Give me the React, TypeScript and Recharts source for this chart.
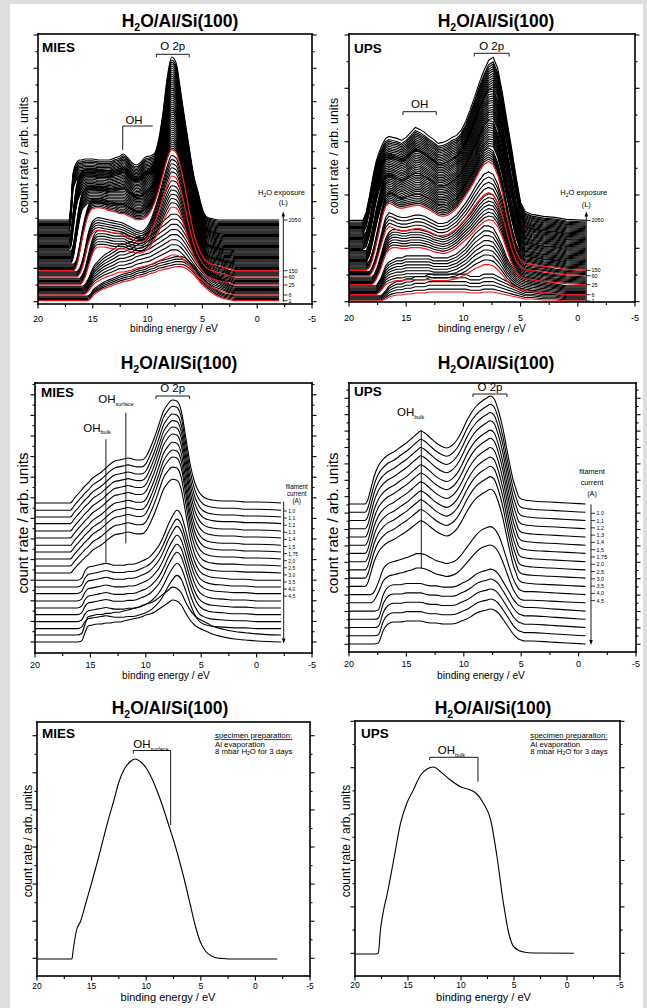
import React from "react";
import { LineChart, Line, XAxis, YAxis } from "recharts";

const FONT = '"Liberation Sans", Arial, Helvetica, sans-serif';
const RED = "#f2161b";

// binding energy axis, shared by every panel
const xMajor = [20, 15, 10, 5, 0, -5];
const xMinor = [17.5, 12.5, 7.5, 2.5, -2.5];

// ---------- row 1, MIES, H2O exposure (heights above each curve's own baseline, arb.) ----------
const miesEnergy = [20, 17.5, 17.2, 17.0, 16.8, 16.5, 16.2, 16.0, 15.7, 15.5, 15.2, 15.0, 14.5, 14.0, 13.5, 13.0, 12.5, 12.2, 11.8, 11.4, 11.0, 10.6, 10.2, 9.8, 9.4, 9.0, 8.6, 8.2, 7.8, 7.4, 7.0, 6.6, 6.2, 5.8, 5.4, 5.0, 4.6, 4.0, 3.5, 3.0, 2.5, 2.0, 1.0, -2.0];
const mies1L = [0, 0, 0, 0, 0, 0, 0, 0, 0, 0, 2, 5, 9, 12, 14, 16, 18, 19, 20, 21, 23, 24, 25, 27, 28, 30, 31, 32, 33, 34, 34, 33, 30, 26, 21, 16, 12, 7, 4, 2, 1, 0, 0, 0];
const mies6L = [0, 0, 0, 0, 0, 0, 0, 0, 1, 3, 7, 10, 14, 17, 19, 21, 23, 23, 24, 25, 27, 28, 29, 30, 32, 34, 36, 38, 40, 40, 38, 34, 29, 24, 19, 15, 11, 7, 5, 3, 1, 0, 0, 0];
const mies25L = [0, 0, 0, 0, 0, 0, 0, 2, 8, 15, 26, 32, 38, 38, 37, 36, 36, 36, 34, 33, 32, 32, 34, 38, 45, 53, 63, 72, 78, 77, 70, 57, 42, 30, 21, 14, 9, 6, 4, 3, 2, 0, 0, 0];
const mies60L = [0, 0, 0, 0, 0, 0, 3, 8, 20, 30, 40, 44, 47, 46, 45, 44, 43, 42, 40, 38, 36, 35, 37, 43, 53, 65, 79, 92, 101, 99, 88, 70, 50, 33, 22, 14, 9, 6, 4, 3, 1, 0, 0, 0];
const mies150L = [0, 0, 0, 0, 0, 4, 18, 30, 45, 53, 60, 62, 63, 62, 60, 59, 57, 57, 55, 53, 51, 51, 53, 58, 67, 80, 96, 112, 121, 118, 104, 84, 60, 38, 24, 15, 9, 6, 5, 3, 2, 0, 0, 0];
const mies300L = [0, 0, 0, 0, 5, 25, 45, 54, 59, 61, 62, 62, 62, 61, 60, 60, 60, 60, 58, 55, 53, 53, 56, 60, 67, 80, 99, 120, 131, 128, 111, 88, 63, 40, 25, 14, 7, 4, 3, 1, 1, 0, 0, 0];
const miesMidL = [0, 0, 0, 3, 20, 45, 56, 59, 61, 62, 62, 62, 61, 61, 60, 61, 62, 63, 60, 56, 54, 55, 59, 62, 67, 80, 102, 128, 142, 138, 117, 92, 66, 42, 26, 13, 5, 2, 1, 0, 0, 0, 0, 0];
const mies2050L = [0, 0, 0, 15, 47, 57, 60, 60, 61, 61, 61, 61, 60, 60, 60, 62, 64, 66, 62, 57, 55, 58, 63, 64, 66, 80, 107, 143, 163, 157, 130, 100, 72, 45, 28, 11, 3, 1, 0, 0, 0, 0, 0, 0];
// each drawn curve: baseline offset, which reference spectrum, and its scale
const miesBase = [3.3, 4.4, 5.6, 6.8, 7.9, 9.0, 10.1, 11.2, 12.3, 13.4, 14.5, 15.6, 16.7, 17.8, 19.0, 20.1, 21.2, 22.4, 23.5, 24.7, 25.8, 27.0, 28.1, 29.2, 30.2, 31.3, 32.3, 33.3,
  34.4, 35.5, 36.6, 37.7, 38.8, 39.9, 41.0, 42.1, 43.2, 44.3, 45.4, 46.5, 47.6, 48.7, 49.8, 50.9, 52.0, 53.1, 54.2, 55.3, 56.4, 57.5, 58.6,
  59.7, 60.8, 61.9, 63.0, 64.1, 65.2, 66.3, 67.4, 68.5, 69.6, 70.7, 71.8, 72.9, 74.0, 75.1, 76.2, 77.3, 78.4, 79.5, 80.6, 81.7, 82.8, 84.0];
const miesKeyOf = [0, 0, 0, 0, 0, 1, 1, 1, 1, 1, 1, 1, 1, 1, 2, 2, 2, 2, 2, 2, 2, 3, 3, 3, 3, 3, 3, 4,
  4, 4, 4, 4, 4, 4,
  5, 5, 5, 5, 5, 5, 5, 5, 5, 5, 5, 5,
  6, 6, 6, 6, 6, 6, 6, 6, 6, 6, 6, 6, 6, 6, 6,
  7, 7, 7, 7, 7, 7, 7, 7, 7, 7, 7, 7, 7];
const miesGain = [1, 1.04, 1.08, 1.12, 1.16, 1, 1.1, 1.2, 1.3, 1.4, 1.5, 1.6, 1.7, 1.8, 1, 1.04, 1.08, 1.12, 1.16, 1.2, 1.25, 1, 1.03, 1.06, 1.09, 1.12, 1.15, 1,
  1.005, 1.012, 1.02, 1.027, 1.035, 1.042,
  0.969, 0.976, 0.983, 0.99, 0.997, 1.004, 1.011, 1.018, 1.024, 1.031, 1.038, 1.045,
  0.97, 0.977, 0.983, 0.989, 0.996, 1.002, 1.008, 1.015, 1.021, 1.027, 1.034, 1.04, 1.046, 1.053, 1.059,
  0.928, 0.934, 0.939, 0.945, 0.95, 0.956, 0.961, 0.967, 0.972, 0.978, 0.983, 0.989, 1];
const miesRed = [0, 5, 14, 21, 27];
const exposureLabels = ["1", "6", "25", "60", "150", "2050"];
const miesLabelIdx = [0, 5, 14, 21, 27, 73];

// ---------- row 1, UPS, H2O exposure ----------
const upsEnergy = [20, 19.0, 18.8, 18.5, 18.2, 18.0, 17.8, 17.6, 17.4, 17.2, 17.0, 16.8, 16.5, 16.2, 15.8, 15.4, 15.0, 14.6, 14.2, 13.8, 13.4, 13.0, 12.6, 12.2, 11.8, 11.4, 11.0, 10.6, 10.2, 9.8, 9.4, 9.0, 8.6, 8.2, 7.8, 7.4, 7.0, 6.6, 6.2, 5.8, 5.4, 5.0, 4.6, 4.0, 3.0, 2.0, 1.0, -0.7];
const ups1L = [0, 0, 0, 0, 0, 0, 0, 0, 0, 0, 1, 2, 4, 5, 6, 6, 7, 7, 8, 8, 8, 9, 9, 9, 9, 9, 9, 9, 9, 9, 8, 8, 8, 9, 9, 9, 8, 7, 6, 5, 4, 3, 2, 2, 1, 1, 0, 0];
const ups6L = [0, 0, 0, 0, 0, 0, 0, 0, 2, 4, 7, 10, 12, 13, 14, 14, 15, 15, 15, 15, 15, 15, 14, 14, 14, 14, 15, 16, 18, 20, 23, 26, 28, 30, 30, 29, 25, 20, 14, 10, 7, 5, 4, 3, 2, 1, 0, 0];
const ups25L = [0, 0, 0, 0, 0, 0, 2, 6, 11, 17, 24, 30, 35, 37, 37, 36, 36, 37, 37, 37, 36, 35, 33, 32, 31, 32, 34, 37, 41, 45, 49, 54, 59, 63, 65, 64, 58, 48, 35, 22, 13, 8, 6, 5, 3, 2, 1, 0];
const ups60L = [0, 0, 0, 0, 0, 3, 8, 14, 22, 30, 38, 45, 49, 48, 46, 45, 45, 46, 47, 47, 46, 44, 42, 40, 40, 41, 44, 47, 52, 57, 63, 70, 76, 81, 83, 81, 73, 60, 43, 27, 15, 9, 6, 5, 4, 2, 1, 0];
const ups150L = [0, 0, 0, 0, 3, 9, 17, 27, 37, 48, 57, 64, 67, 66, 63, 62, 63, 64, 65, 65, 63, 61, 58, 55, 54, 55, 58, 62, 68, 75, 82, 90, 99, 106, 109, 106, 95, 78, 55, 35, 19, 10, 7, 6, 4, 3, 1, 0];
const ups300L = [0, 0, 0, 0, 8, 18, 29, 40, 50, 59, 66, 71, 73, 72, 69, 67, 69, 71, 73, 73, 70, 68, 65, 61, 61, 62, 65, 68, 74, 82, 90, 99, 110, 118, 123, 122, 111, 92, 68, 46, 26, 12, 7, 6, 4, 3, 1, 0];
const upsMidL = [0, 0, 0, 3, 15, 27, 40, 52, 61, 68, 73, 76, 77, 76, 74, 72, 74, 78, 81, 80, 77, 74, 71, 67, 67, 69, 72, 75, 81, 89, 98, 109, 120, 130, 137, 138, 127, 106, 80, 56, 32, 14, 8, 6, 4, 3, 1, 0];
const ups2050L = [0, 0, 0, 8, 25, 38, 50, 60, 67, 73, 78, 82, 84, 83, 82, 80, 83, 88, 93, 91, 88, 84, 81, 77, 78, 80, 83, 85, 90, 99, 111, 124, 138, 150, 160, 163, 152, 128, 100, 73, 44, 18, 9, 6, 4, 3, 1, 0];
const upsBase = [1.0, 2.1, 3.2, 4.2, 5.3, 6.3, 7.3, 8.4, 9.5, 10.6, 11.7, 12.8, 13.9, 15.0, 16.1, 17.3, 18.4, 19.5, 20.6, 21.7, 22.8, 23.9, 25.0, 26.3, 27.4, 28.4, 29.5, 30.5, 31.6,
  32.7, 33.8, 34.9, 36.0, 37.1, 38.2, 39.3, 40.4, 41.5, 42.6, 43.7, 44.8, 45.9, 47.0, 48.1, 49.2, 50.3, 51.4, 52.5, 53.6, 54.7, 55.8,
  56.9, 58.0, 59.1, 60.2, 61.3, 62.4, 63.5, 64.6, 65.7, 66.8, 67.9, 69.0, 70.1, 71.2, 72.3, 73.4, 74.5, 75.6, 76.7, 77.8, 78.9, 80.0, 81.6];
const upsKeyOf = [0, 0, 0, 0, 0, 0, 1, 1, 1, 1, 1, 1, 1, 1, 1, 2, 2, 2, 2, 2, 2, 2, 2, 3, 3, 3, 3, 3, 4,
  4, 4, 4, 4, 4, 4,
  5, 5, 5, 5, 5, 5, 5, 5, 5, 5, 5, 5,
  6, 6, 6, 6, 6, 6, 6, 6, 6, 6, 6, 6, 6, 6,
  7, 7, 7, 7, 7, 7, 7, 7, 7, 7, 7, 7, 7];
const upsGain = [1, 1.2, 1.5, 1.8, 2.1, 2.4, 1, 1.12, 1.25, 1.38, 1.5, 1.62, 1.75, 1.87, 2.0, 1, 1.04, 1.08, 1.12, 1.16, 1.2, 1.24, 1.28, 1, 1.05, 1.1, 1.15, 1.2, 1,
  1.011, 1.021, 1.032, 1.043, 1.053, 1.064,
  0.952, 0.962, 0.971, 0.98, 0.99, 0.999, 1.009, 1.018, 1.028, 1.037, 1.046, 1.056,
  0.949, 0.958, 0.967, 0.975, 0.983, 0.991, 1.0, 1.009, 1.017, 1.025, 1.033, 1.042, 1.051, 1.059,
  0.904, 0.911, 0.918, 0.925, 0.932, 0.939, 0.946, 0.954, 0.961, 0.968, 0.975, 0.982, 1];
const upsRed = [0, 6, 15, 23, 28];
const upsLabelIdx = [0, 6, 15, 23, 28, 73];

// ---------- row 2, MIES, filament current ----------
const filMiesEnergy = [20, 17.0, 16.8, 16.5, 16.2, 15.8, 15.5, 15.2, 14.8, 14.4, 14.0, 13.6, 13.2, 12.8, 12.4, 12.0, 11.6, 11.2, 10.8, 10.4, 10.0, 9.6, 9.2, 8.8, 8.4, 8.0, 7.6, 7.2, 6.8, 6.4, 6.0, 5.6, 5.2, 4.8, 4.4, 4.0, 3.0, 2.0, 1.0, 0, -2.2];
const filMiesTop = [0, 0, 0, 4, 8, 13, 17, 20, 25, 28, 31, 35, 39, 42, 43, 44, 45, 44, 43, 43, 46, 55, 66, 79, 92, 99, 103, 102, 92, 66, 39, 21, 11, 6, 4, 3, 2, 2, 1, 1, 0];
const filMiesMid = [0, 0, 0, 0, 0, 2, 9, 13, 14, 15, 16, 17, 16, 15, 15, 15, 16, 16, 17, 19, 21, 24, 29, 35, 44, 55, 64, 70, 65, 50, 33, 19, 10, 6, 4, 3, 2, 1, 1, 0, 0];
const filMiesBot = [0, 0, 0, 0, 0, 1, 9, 16, 17, 18, 18, 19, 19, 20, 20, 21, 22, 23, 24, 25, 27, 28, 30, 33, 36, 39, 42, 41, 37, 29, 22, 17, 14, 12, 10, 8, 5, 3, 2, 1, 0];
const filMiesBase = [150, 142.7, 136, 129.4, 122, 115, 107.7, 101, 94, 87, 80, 72.7, 66, 59.4, 52, 45, 38.4, 31.4, 24.4, 18, 11];
const filMiesKeyOf = [0, 0, 0, 0, 0, 0, 0, 0, 0, 0, 0, 1, 1, 1, 1, 1, 1, 1, 1, 2, 2];
const filMiesGain = [1, 1.01, 1, 1, 1.01, 1.01, 1, 0.99, 0.99, 0.96, 0.91, 1, 0.97, 0.96, 0.94, 0.91, 0.89, 0.83, 0.76, 1.14, 1];

// ---------- row 2, UPS, filament current ----------
const filUpsEnergy = [20, 18.6, 18.4, 18.1, 17.8, 17.45, 17.0, 16.6, 16.1, 15.5, 15.0, 14.5, 14.1, 13.75, 13.4, 12.9, 12.4, 11.8, 11.5, 11.1, 10.6, 10.2, 9.75, 9.3, 8.9, 8.4, 8.0, 7.7, 7.35, 7.0, 6.6, 6.3, 6.0, 5.7, 5.45, 5.25, 5.0, 4.7, 4.0, 2.5, 1.0, -0.6];
const filUpsTop = [0, 0, 3, 15, 28, 38, 45, 49, 52, 57, 61, 66, 70, 73, 71, 66, 61, 57, 56, 58, 64, 72, 83, 92, 98, 103, 106, 108, 105, 94, 76, 58, 40, 24, 15, 8, 5, 4, 3, 2, 1, 0];
const filUpsMid = [0, 0, 0, 0, 3, 12, 26, 31, 33, 35, 37, 39, 41, 41, 40, 37, 34, 32, 31, 32, 35, 40, 47, 54, 60, 65, 67, 68, 66, 60, 48, 37, 26, 16, 10, 6, 4, 3, 3, 2, 1, 0];
const filUpsBot = [0, 0, 0, 0, 0, 1, 14, 20, 22, 22, 23, 23, 23, 23, 22, 21, 21, 20, 20, 20, 21, 23, 25, 28, 31, 33, 34, 35, 34, 31, 25, 20, 15, 10, 7, 5, 4, 3, 3, 2, 1, 0];
const filUpsBase = [148, 139.7, 131.5, 123.3, 115, 106.8, 98.6, 90.3, 82.1, 73.9, 65.6, 57.4, 49.2, 40.9, 32.7, 24.5, 16.2, 8];
const filUpsKeyOf = [0, 0, 0, 0, 0, 0, 0, 0, 0, 0, 0, 1, 1, 2, 2, 2, 2, 2];
const filUpsGain = [1, 1, 1, 1, 0.99, 0.99, 0.98, 0.97, 0.96, 0.94, 0.9, 1, 0.85, 1.2, 1.15, 1.1, 1.05, 1];
const filamentLabels = ["1,0", "1,1", "1,2", "1,3", "1,4", "1,5", "1,75", "2,0", "2,5", "3,0", "3,5", "4,0", "4,5"];

// ---------- row 3, 8 mbar H2O for 3 days ----------
const prepMiesEnergy = [20, 18.0, 16.8, 16.7, 16.4, 16.0, 15.5, 15.0, 14.5, 14.0, 13.5, 13.0, 12.5, 12.0, 11.5, 11.0, 10.5, 10.0, 9.5, 9.0, 8.5, 8.0, 7.5, 7.0, 6.5, 6.0, 5.5, 5.0, 4.5, 4.0, 3.5, 3.0, 2.0, -2.0];
const prepMiesCount = [17, 17, 17, 25, 45, 55, 74, 93, 113, 134, 155, 174, 194, 207, 214, 217, 214, 208, 198, 185, 170, 153, 136, 117, 96, 73, 50, 33, 24, 20, 18, 17.5, 17, 17];
const prepUpsEnergy = [20, 18.0, 17.8, 17.6, 17.3, 17.0, 16.3, 15.7, 15.1, 14.5, 13.8, 13.2, 12.6, 11.9, 11.0, 10.0, 9.1, 8.5, 7.9, 7.2, 6.6, 6.0, 5.5, 5.0, 4.1, 3.2, -0.65];
const prepUpsCount = [22, 22, 23, 46, 66, 80, 119, 153, 173, 186, 201, 207, 209, 204, 196, 189, 186, 182, 173, 156, 119, 73, 43, 29, 24, 23, 22.7];

// y tick positions (arb. units) per panel
const yMajorA = [2.3, 35.7, 69, 102.3, 135.7, 169, 202.3, 235.7, 269];
const yMinorA = [19, 52.3, 85.7, 119, 152.3, 185.7, 219, 252.3];
const yMajorB = [0.3, 53.7, 107, 160.3, 213.7, 267];
const yMinorB = [27, 80.3, 133.7, 187, 240.3];
const yMajorC = [11, 31.6, 52.2, 72.8, 93.4, 114, 134.6, 155.2, 175.8, 196.4, 217, 237.6, 258.2];
const yMinorC = [21.3, 41.9, 62.5, 83.1, 103.7, 124.3, 144.9, 165.5, 186.1, 206.7, 227.3, 247.9, 268.5];
const yMajorD = [7.7, 24.1, 40.5, 56.9, 73.3, 89.7, 106.1, 122.5, 138.9, 155.3, 171.7, 188.1, 204.5, 220.9, 237.3, 253.7];
const yMinorD = [15.9, 32.3, 48.7, 65.1, 81.5, 97.9, 114.3, 130.7, 147.1, 163.5, 179.9, 196.3, 212.7, 229.1, 245.5, 261.9];
const yMajorE = [17.7, 54.8, 91.9, 129, 166.1, 203.2, 240.3];
const yMinorE = [36.2, 73.3, 110.4, 147.5, 184.6, 221.7];
const yMajorF = [22.7, 69.1, 115.5, 161.9, 208.3, 254.7];
const yMinorF = [45.9, 92.3, 138.7, 185.1, 231.5];

type Frame = { left: number; top: number; width: number; height: number };
const frameA: Frame = { left: 38, top: 34, width: 274, height: 270 };
const frameB: Frame = { left: 349, top: 34, width: 286, height: 268 };
const frameC: Frame = { left: 35, top: 383, width: 277, height: 270 };
const frameD: Frame = { left: 349, top: 383, width: 287, height: 269 };
const frameE: Frame = { left: 37, top: 722, width: 273, height: 254 };
const frameF: Frame = { left: 355, top: 721, width: 265, height: 255 };
const panelFrames = [frameA, frameB, frameC, frameD, frameE, frameF];

function stackRows(energy: number[], keys: number[][], base: number[], keyOf: number[], gain: number[]) {
  return energy.map((e, i) => {
    const row: Record<string, number> = { e };
    base.forEach((b, k) => {
      row["c" + k] = b + gain[k] * keys[keyOf[k]][i];
    });
    return row;
  });
}

function curveList(n: number, red: number[], width: number, redWidth: number) {
  const black = [];
  const reds = [];
  for (let k = 0; k < n; k++) {
    if (red.includes(k)) reds.push({ key: "c" + k, color: RED, width: redWidth });
    else black.push({ key: "c" + k, color: "#000", width });
  }
  return [...black, ...reds];
}

function XTick(props: any) {
  const { x, y, payload, font, gap } = props;
  const major = xMajor.includes(payload.value);
  return (
    <g>
      <line x1={x} x2={x} y1={y} y2={y + (major ? 4.5 : 3)} stroke="#000" strokeWidth={1.1} />
      {major ? (
        <text x={x} y={y + gap} textAnchor="middle" fontSize={font} fontFamily={FONT} fill="#000">
          {String(payload.value)}
        </text>
      ) : null}
    </g>
  );
}

function YTick(props: any) {
  const { x, y, payload, dir, major } = props;
  const len = major.includes(payload.value) ? 4.5 : 2.5;
  return <line x1={x} x2={x + dir * len} y1={y} y2={y} stroke="#000" strokeWidth={1.1} />;
}

function SpectraPanel(props: any) {
  const { frame, rows, curves, yMajor, yMinor, curveType, tickFont, tickGap } = props;
  // axes are 1px bands so that the plot area equals the drawn frame
  const m = { top: 7, right: 15, bottom: 25, left: 15 };
  const xTicks = [...xMajor, ...xMinor].sort((a, b) => a - b);
  const yTicks = [...yMajor, ...yMinor].sort((a, b) => a - b);
  return (
    <div style={{ position: "absolute", left: frame.left - m.left - 1, top: frame.top - m.top }}>
      <LineChart width={frame.width + m.left + m.right + 2} height={frame.height + m.top + m.bottom + 1} data={rows} margin={m}>
        <XAxis
          dataKey="e"
          type="number"
          domain={[-5, 20]}
          reversed
          allowDataOverflow
          ticks={xTicks}
          interval={0}
          height={1}
          tickSize={0}
          tickMargin={0}
          axisLine={false}
          tickLine={false}
          tick={(p: any) => <XTick {...p} font={tickFont} gap={tickGap} />}
        />
        <YAxis
          yAxisId="l"
          type="number"
          domain={[0, frame.height]}
          allowDataOverflow
          ticks={yTicks}
          interval={0}
          width={1}
          tickSize={0}
          tickMargin={0}
          axisLine={false}
          tickLine={false}
          tick={(p: any) => <YTick {...p} dir={-1} major={yMajor} />}
        />
        <YAxis
          yAxisId="r"
          orientation="right"
          type="number"
          domain={[0, frame.height]}
          allowDataOverflow
          ticks={yTicks}
          interval={0}
          width={1}
          tickSize={0}
          tickMargin={0}
          axisLine={false}
          tickLine={false}
          tick={(p: any) => <YTick {...p} dir={1} major={yMajor} />}
        />
        {curves.map((c: any) => (
          <Line
            key={c.key}
            yAxisId="l"
            dataKey={c.key}
            type={curveType}
            stroke={c.color}
            strokeWidth={c.width}
            dot={false}
            activeDot={false}
            isAnimationActive={false}
          />
        ))}
      </LineChart>
    </div>
  );
}

// panel outline drawn as four solid strips
function BoxStrips({ f, t }: { f: Frame; t: number }) {
  const h = t / 2;
  return (
    <g>
      <rect x={f.left - h} y={f.top - h} width={f.width + t} height={t} fill="#000" />
      <rect x={f.left - h} y={f.top + f.height - h} width={f.width + t} height={t} fill="#000" />
      <rect x={f.left - h} y={f.top - h} width={t} height={f.height + t} fill="#000" />
      <rect x={f.left + f.width - h} y={f.top - h} width={t} height={f.height + t} fill="#000" />
    </g>
  );
}

function ex(f: Frame, e: number) {
  return f.left + ((20 - e) / 25) * f.width;
}

function Title({ x, y }: { x: number; y: number }) {
  return (
    <text x={x} y={y} textAnchor="middle" fontWeight="bold" fontSize={17.5}>
      H<tspan fontSize={10.5} dy={4}>2</tspan>
      <tspan dy={-4}>O/Al/Si(100)</tspan>
    </text>
  );
}

function YLabel({ x, y, size }: { x: number; y: number; size: number }) {
  return (
    <text transform={`translate(${x},${y}) rotate(-90)`} textAnchor="middle" fontSize={size}>
      count rate / arb. units
    </text>
  );
}

function XLabel({ x, y, size }: { x: number; y: number; size: number }) {
  return (
    <text x={x} y={y} textAnchor="middle" fontSize={size}>
      binding energy / eV
    </text>
  );
}

function OHLabel({ x, y, sub }: { x: number; y: number; sub: string }) {
  return (
    <text x={x} y={y} fontSize={11.5}>
      OH<tspan fontSize={5.5} dy={2.5}>{sub}</tspan>
    </text>
  );
}

function UpArrow({ x, y1, y2 }: { x: number; y1: number; y2: number }) {
  return (
    <g>
      <path d={`M${x},${y1} V${y2 + 3}`} fill="none" stroke="#000" strokeWidth={0.9} />
      <path d={`M${x},${y2} L${x - 1.8},${y2 + 5} L${x + 1.8},${y2 + 5} Z`} fill="#000" stroke="none" />
    </g>
  );
}

function DownArrow({ x, y1, y2 }: { x: number; y1: number; y2: number }) {
  return (
    <g>
      <path d={`M${x},${y1} V${y2 - 3}`} fill="none" stroke="#000" strokeWidth={0.9} />
      <path d={`M${x},${y2} L${x - 1.8},${y2 - 5} L${x + 1.8},${y2 - 5} Z`} fill="#000" stroke="none" />
    </g>
  );
}

function Overlay() {
  const bA = frameA.top + frameA.height;
  const bB = frameB.top + frameB.height;
  return (
    <svg width={647} height={1008} style={{ position: "absolute", left: 0, top: 0, pointerEvents: "none" }} fontFamily={FONT} fill="#000">
      {panelFrames.map((f, i) => (
        <BoxStrips key={"bx" + i} f={f} t={1.6} />
      ))}
      <Title x={180} y={27} />
      <Title x={496} y={26.5} />
      <Title x={179} y={368.5} />
      <Title x={496} y={368.5} />
      <Title x={170} y={713.5} />
      <Title x={493} y={713.5} />

      <text x={42} y={51.5} fontWeight="bold" fontSize={13.5}>MIES</text>
      <text x={354} y={52.5} fontWeight="bold" fontSize={13.5}>UPS</text>
      <text x={41} y={396.5} fontWeight="bold" fontSize={13.5}>MIES</text>
      <text x={354} y={396} fontWeight="bold" fontSize={13.5}>UPS</text>
      <text x={42} y={737.5} fontWeight="bold" fontSize={13.5}>MIES</text>
      <text x={361} y={737.5} fontWeight="bold" fontSize={13.5}>UPS</text>

      <YLabel x={28} y={155} size={12.4} />
      <YLabel x={338} y={156} size={12.4} />
      <YLabel x={28} y={523} size={15} />
      <YLabel x={338} y={523} size={15} />
      <YLabel x={31.5} y={841} size={12} />
      <YLabel x={349.5} y={841} size={12} />

      <XLabel x={174} y={332} size={10.2} />
      <XLabel x={482} y={332} size={10.2} />
      <XLabel x={166} y={679} size={10.2} />
      <XLabel x={481} y={679} size={10.2} />
      <XLabel x={168} y={1001} size={11} />
      <XLabel x={483.5} y={1001} size={11} />

      {/* row 1 MIES annotations */}
      <text x={(ex(frameA, 9.2) + ex(frameA, 6.2)) / 2} y={49.5} textAnchor="middle" fontSize={11.5}>O 2p</text>
      <path d={`M${ex(frameA, 9.2)},57.3 V54.3 H${ex(frameA, 6.2)} V57.3`} fill="none" stroke="#000" strokeWidth={0.9} />
      <text x={134} y={123.5} textAnchor="middle" fontSize={11.5}>OH</text>
      <path d={`M${ex(frameA, 12.27)},150 V126 H${ex(frameA, 9.53)}`} fill="none" stroke="#000" strokeWidth={0.9} />
      <text x={258} y={195} fontSize={7.5}>
        H<tspan fontSize={5} dy={1.5}>2</tspan>
        <tspan dy={-1.5}>O exposure</tspan>
      </text>
      <text x={283.3} y={204.5} textAnchor="middle" fontSize={7.5}>(L)</text>
      <UpArrow x={283.3} y1={301.7} y2={211.5} />
      {miesLabelIdx.map((idx, i) => (
        <g key={"ma" + i}>
          <path d={`M283.3,${bA - miesBase[idx]} H287.5`} fill="none" stroke="#000" strokeWidth={0.8} />
          <text x={288.5} y={bA - miesBase[idx] + 2} fontSize={5.5}>{exposureLabels[i]}</text>
        </g>
      ))}

      {/* row 1 UPS annotations */}
      <text x={(ex(frameB, 9.05) + ex(frameB, 6.0)) / 2} y={49.5} textAnchor="middle" fontSize={11.5}>O 2p</text>
      <path d={`M${ex(frameB, 9.05)},56.5 V53.3 H${ex(frameB, 6.0)} V56.5`} fill="none" stroke="#000" strokeWidth={0.9} />
      <text x={(ex(frameB, 15.28) + ex(frameB, 12.37)) / 2} y={108} textAnchor="middle" fontSize={11.5}>OH</text>
      <path d={`M${ex(frameB, 15.28)},115 V111.7 H${ex(frameB, 12.37)} V115`} fill="none" stroke="#000" strokeWidth={0.9} />
      <text x={560.3} y={195} fontSize={7.5}>
        H<tspan fontSize={5} dy={1.5}>2</tspan>
        <tspan dy={-1.5}>O exposure</tspan>
      </text>
      <text x={586.3} y={206.5} textAnchor="middle" fontSize={7.5}>(L)</text>
      <UpArrow x={586.3} y1={301.7} y2={211.5} />
      {upsLabelIdx.map((idx, i) => (
        <g key={"ua" + i}>
          <path d={`M586.3,${bB - upsBase[idx]} H590.5`} fill="none" stroke="#000" strokeWidth={0.8} />
          <text x={591.5} y={bB - upsBase[idx] + 2} fontSize={5.5}>{exposureLabels[i]}</text>
        </g>
      ))}

      {/* row 2 MIES annotations */}
      <text x={(ex(frameC, 9.08) + ex(frameC, 6.07)) / 2} y={392} textAnchor="middle" fontSize={11.5}>O 2p</text>
      <path d={`M${ex(frameC, 9.08)},399 V396 H${ex(frameC, 6.07)} V399`} fill="none" stroke="#000" strokeWidth={0.9} />
      <OHLabel x={98.3} y={403} sub="surface" />
      <path d={`M${ex(frameC, 11.8)},412.7 V543.3`} fill="none" stroke="#000" strokeWidth={0.9} />
      <OHLabel x={83.3} y={431.7} sub="bulk" />
      <path d={`M${ex(frameC, 13.6)},439.3 V562.7`} fill="none" stroke="#000" strokeWidth={0.9} />
      <text x={296.7} y={488.7} textAnchor="middle" fontSize={6.3}>filament</text>
      <text x={296.7} y={495.7} textAnchor="middle" fontSize={6.3}>current</text>
      <text x={296.7} y={502.5} textAnchor="middle" fontSize={6.3}>(A)</text>
      <DownArrow x={283.7} y1={501.7} y2={643.5} />
      {filamentLabels.map((t, i) => (
        <g key={"fm" + i}>
          <path d={`M283.7,${511 + 7.1 * i} H287`} fill="none" stroke="#000" strokeWidth={0.8} />
          <text x={288.3} y={511 + 7.1 * i + 2} fontSize={5}>{t}</text>
        </g>
      ))}

      {/* row 2 UPS annotations */}
      <text x={(ex(frameD, 9.2) + ex(frameD, 6.24)) / 2} y={390.5} textAnchor="middle" fontSize={11.5}>O 2p</text>
      <path d={`M${ex(frameD, 9.2)},397 V394 H${ex(frameD, 6.24)} V397`} fill="none" stroke="#000" strokeWidth={0.9} />
      <OHLabel x={397} y={416} sub="bulk" />
      <path d={`M${ex(frameD, 13.7)},430 V568.3`} fill="none" stroke="#000" strokeWidth={0.9} />
      <text x={592} y={474} textAnchor="middle" fontSize={7.3}>filament</text>
      <text x={592} y={485} textAnchor="middle" fontSize={7.3}>current</text>
      <text x={592} y={496} textAnchor="middle" fontSize={7.3}>(A)</text>
      <DownArrow x={591} y1={504.3} y2={645} />
      {filamentLabels.map((t, i) => (
        <g key={"fu" + i}>
          <path d={`M591,${513.3 + 7.28 * i} H595`} fill="none" stroke="#000" strokeWidth={0.8} />
          <text x={596.5} y={513.3 + 7.28 * i + 2} fontSize={5.5}>{t}</text>
        </g>
      ))}

      {/* row 3 annotations */}
      <OHLabel x={133.3} y={748} sub="surface" />
      <path d={`M${ex(frameE, 11.18)},753.5 V750.5 H${ex(frameE, 7.76)} V825`} fill="none" stroke="#000" strokeWidth={0.9} />
      <text x={215} y={738.3} fontSize={7.8} textDecoration="underline">specimen preparation:</text>
      <text x={215} y={746.5} fontSize={7.8}>Al evaporation</text>
      <text x={215} y={753.8} fontSize={7.8}>
        8 mbar H<tspan fontSize={5} dy={1.5}>2</tspan>
        <tspan dy={-1.5}>O for 3 days</tspan>
      </text>

      <OHLabel x={437.7} y={754} sub="bulk" />
      <path d={`M${ex(frameF, 12.95)},760 V757.3 H${ex(frameF, 8.4)} V781.7`} fill="none" stroke="#000" strokeWidth={0.9} />
      <text x={530.3} y={738.3} fontSize={7.8} textDecoration="underline">specimen preparation:</text>
      <text x={530.3} y={746.5} fontSize={7.8}>Al evaporation</text>
      <text x={530.3} y={753.8} fontSize={7.8}>
        8 mbar H<tspan fontSize={5} dy={1.5}>2</tspan>
        <tspan dy={-1.5}>O for 3 days</tspan>
      </text>
    </svg>
  );
}

export default function App() {
  const rowsA = stackRows(miesEnergy, [mies1L, mies6L, mies25L, mies60L, mies150L, mies300L, miesMidL, mies2050L], miesBase, miesKeyOf, miesGain);
  const rowsB = stackRows(upsEnergy, [ups1L, ups6L, ups25L, ups60L, ups150L, ups300L, upsMidL, ups2050L], upsBase, upsKeyOf, upsGain);
  const rowsC = stackRows(filMiesEnergy, [filMiesTop, filMiesMid, filMiesBot], filMiesBase, filMiesKeyOf, filMiesGain);
  const rowsD = stackRows(filUpsEnergy, [filUpsTop, filUpsMid, filUpsBot], filUpsBase, filUpsKeyOf, filUpsGain);
  const rowsE = prepMiesEnergy.map((e, i) => ({ e, c0: prepMiesCount[i] }));
  const rowsF = prepUpsEnergy.map((e, i) => ({ e, c0: prepUpsCount[i] }));

  return (
    <div style={{ position: "absolute", left: 0, top: 0, width: 647, height: 1008, background: "#dedede", overflow: "hidden", fontFamily: FONT }}>
      <div style={{ position: "absolute", left: 10, top: 4, width: 633, height: 1004, background: "#fff" }} />
      <SpectraPanel frame={frameA} rows={rowsA} curves={curveList(miesBase.length, miesRed, 1.12, 1.2)} yMajor={yMajorA} yMinor={yMinorA} curveType="monotone" tickFont={9} tickGap={17.5} />
      <SpectraPanel frame={frameB} rows={rowsB} curves={curveList(upsBase.length, upsRed, 1.12, 1.2)} yMajor={yMajorB} yMinor={yMinorB} curveType="linear" tickFont={9} tickGap={18.5} />
      <SpectraPanel frame={frameC} rows={rowsC} curves={curveList(filMiesBase.length, [], 1.1, 1.1)} yMajor={yMajorC} yMinor={yMinorC} curveType="monotone" tickFont={9} tickGap={14.5} />
      <SpectraPanel frame={frameD} rows={rowsD} curves={curveList(filUpsBase.length, [], 1.1, 1.1)} yMajor={yMajorD} yMinor={yMinorD} curveType="monotone" tickFont={9} tickGap={14.7} />
      <SpectraPanel frame={frameE} rows={rowsE} curves={curveList(1, [], 1.1, 1.1)} yMajor={yMajorE} yMinor={yMinorE} curveType="monotone" tickFont={8.5} tickGap={13.3} />
      <SpectraPanel frame={frameF} rows={rowsF} curves={curveList(1, [], 1.1, 1.1)} yMajor={yMajorF} yMinor={yMinorF} curveType="monotone" tickFont={8.5} tickGap={12.3} />
      <Overlay />
    </div>
  );
}
